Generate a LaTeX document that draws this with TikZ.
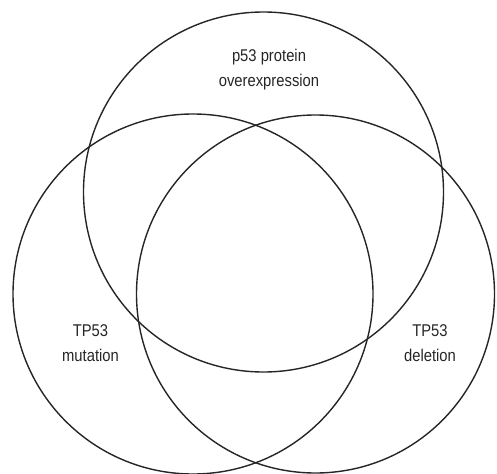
\documentclass[tikz,border=0pt]{standalone}
\usepackage{fontspec}
\setmainfont{Liberation Sans}[FakeStretch=0.87]
\begin{document}
\begin{tikzpicture}[x=1pt,y=-1pt,
  venn/.style={circle, draw=black!85, line width=1.4pt, inner sep=0pt, outer sep=0pt},
  lbl/.style={anchor=base, inner sep=0pt, text=black!85, font=\fontsize{17}{25}\selectfont}]
\useasboundingbox (0,0) rectangle (497,473);
\node[venn, minimum size=360pt] (top) at (263.5,192) {};
\node[venn, minimum size=360pt] (left) at (193,294) {};
\node[venn, minimum size=358pt] (right) at (315.5,294) {};
\node[lbl] (ptext) at (269,61.7) {\begin{tabular}[t]{@{}c@{}}p53 protein\\overexpression\end{tabular}};
\node[lbl] (mtext) at (90.5,336.7) {\begin{tabular}[t]{@{}c@{}}TP53\\mutation\end{tabular}};
\node[lbl] (dtext) at (430,336.5) {\begin{tabular}[t]{@{}c@{}}TP53\\deletion\end{tabular}};
\end{tikzpicture}
\end{document}
